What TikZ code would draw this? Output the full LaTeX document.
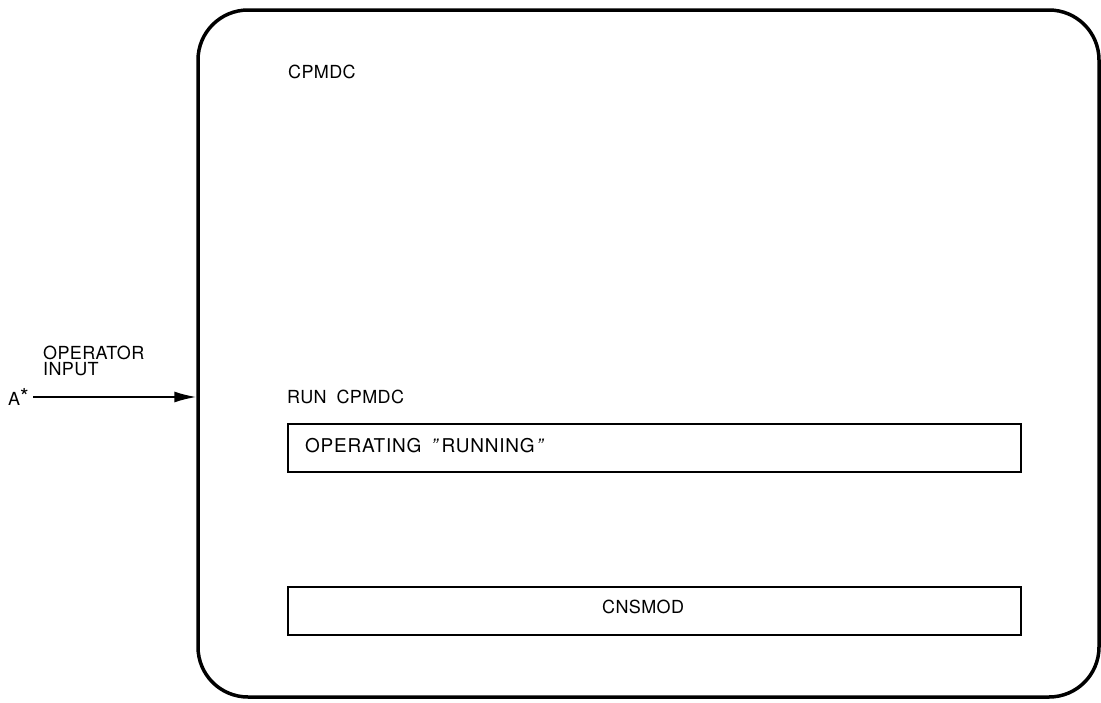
\documentclass[tikz,border=0pt]{standalone}
\usepackage{fontspec}
\setmainfont{TeX Gyre Heros}[LetterSpace=2]
\usetikzlibrary{arrows.meta}
\begin{document}
\begin{tikzpicture}[x=1pt,y=-1pt]
        \tikzstyle{every node}+=[inner sep=0pt, font=\fontsize{18}{16}\selectfont]
        \tikzstyle{modbox}=[draw, line width=1.8pt, minimum width=733, minimum height=48]
        \useasboundingbox (0,0) rectangle (1101,702);
        \node (cpmdcbox) [draw, line width=3.5pt, rounded corners=50, minimum width=901, minimum height=687] at (648.5,353.5) {};
        \node (cpmdc) [anchor=base west] at (288,78) {CPMDC};
        \node (opin) [anchor=north west, align=left] at (43,346) {OPERATOR\\INPUT};
        \node (astar) [anchor=base west] at (8,405) {A\raisebox{1pt}{\fontsize{22}{22}\selectfont *}};
        \coordinate (tail) at (33,397);
        \draw [line width=1.6pt, -{Latex[length=22pt,width=11pt]}] (tail) -- (tail -| cpmdcbox.west);
        \node (run) [anchor=base west] at (287,403) {RUN\hspace{10pt}CPMDC};
        \node (opbox) [modbox, anchor=north west] at (287,423) {};
        \node (optext) [anchor=base west, font=\fontsize{19}{16}\selectfont\addfontfeature{LetterSpace=4}] at (305,452) {OPERATING\hspace{10pt}{\itshape"}\hspace{4pt}RUNNING\hspace{2pt}{\itshape"}};
        \node (cnsbox) [modbox, anchor=north west] at (287,586) {};
        \node (cnsmod) [anchor=base west] at (602,613) {CNSMOD};
\end{tikzpicture}
\end{document}
